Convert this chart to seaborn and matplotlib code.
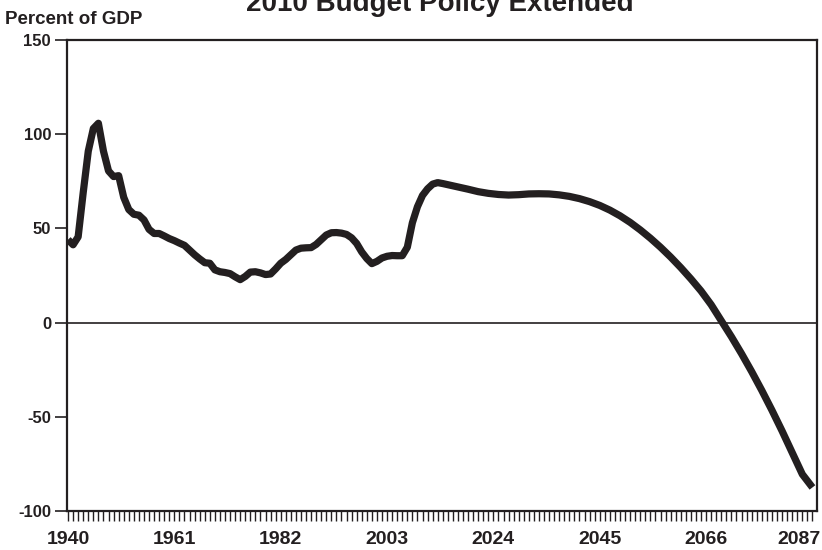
import matplotlib
matplotlib.use("Agg")
import matplotlib.pyplot as plt
import matplotlib.transforms as mtransforms
from matplotlib import font_manager
import seaborn as sns
import numpy as np
import pandas as pd

years = [1940, 1941, 1942, 1943, 1944, 1945, 1946, 1947, 1948, 1949,
         1950, 1951, 1952, 1953, 1954, 1955, 1956, 1957, 1958, 1959,
         1960, 1961, 1962, 1963, 1964, 1965, 1966, 1967, 1968, 1969,
         1970, 1971, 1972, 1973, 1974, 1975, 1976, 1977, 1978, 1979,
         1980, 1981, 1982, 1983, 1984, 1985, 1986, 1987, 1988, 1989,
         1990, 1991, 1992, 1993, 1994, 1995, 1996, 1997, 1998, 1999,
         2000, 2001, 2002, 2003, 2004, 2005, 2006, 2007, 2008, 2009,
         2010, 2011, 2012, 2013, 2014, 2015, 2017, 2019, 2021, 2023,
         2025, 2027, 2029, 2031, 2033, 2035, 2037, 2039, 2041, 2043,
         2045, 2047, 2049, 2051, 2053, 2055, 2057, 2059, 2061, 2063,
         2065, 2067, 2069, 2071, 2073, 2075, 2077, 2079, 2081, 2083,
         2085, 2087]
debt_pct_gdp = [44.0, 41.3, 45.5, 69.0, 91.0, 103.0, 105.8, 91.0, 80.5, 77.5,
                78.0, 66.5, 60.0, 57.5, 57.0, 54.5, 49.5, 47.3, 47.3, 46.0,
                44.6, 43.5, 42.2, 41.0, 38.5, 36.0, 33.8, 31.8, 31.5, 28.0,
                27.0, 26.6, 26.0, 24.3, 22.8, 24.5, 26.8, 27.0, 26.4, 25.5,
                25.8, 28.5, 31.5, 33.5, 36.0, 38.5, 39.5, 39.7, 39.8, 41.5,
                44.0, 46.5, 47.7, 47.8, 47.5, 46.8, 45.0, 42.0, 37.5, 34.0,
                31.3, 32.5, 34.3, 35.2, 35.6, 35.5, 35.5, 40.0, 53.0, 61.5,
                67.5, 71.0, 73.5, 74.3, 73.8, 73.2, 72.0, 70.8, 69.5, 68.6,
                68.0, 67.7, 67.9, 68.3, 68.4, 68.3, 67.8, 67.0, 65.8, 64.2,
                62.2, 59.7, 56.7, 53.2, 49.2, 44.8, 40.0, 34.8, 29.2, 23.2,
                16.8, 9.5, 1.0, -7.5, -16.5, -26.0, -36.0, -46.5, -57.5, -69.0,
                -80.5, -87.5]

tick_years = [1940, 1961, 1982, 2003, 2024, 2045, 2066, 2087]
y_ticks = [-100, -50, 0, 50, 100, 150]

title_text = "2010 Budget Policy Extended"
ylabel_text = "Percent of GDP"

names = {f.name for f in font_manager.fontManager.ttflist}
narrow = "Liberation Sans Narrow" if "Liberation Sans Narrow" in names else "Liberation Sans"

sns.set_theme(style="white")
plt.rcParams["font.family"] = [narrow, "DejaVu Sans"]

fig = plt.figure(figsize=(8.22, 5.5), dpi=100)
ax = fig.add_axes([67 / 822, 1 - 511 / 550, (817 - 67) / 822, (511 - 40) / 550])

df = pd.DataFrame({"year": years, "value": debt_pct_gdp})
ink = "#231f20"
sns.lineplot(data=df, x="year", y="value", ax=ax, color=ink, linewidth=5.2,
             solid_joinstyle="round", solid_capstyle="butt")
ax.axhline(0, color=ink, linewidth=1.2, zorder=1)

ax.set_xlim(1939.8, 2087.9)
ax.set_ylim(-100, 150)
ax.set_xticks(tick_years)
ax.set_xticklabels([str(y) for y in tick_years], fontsize=14, fontweight="bold", color=ink)
ax.set_xticks(np.arange(years[0], years[-1] + 1), minor=True)
ax.set_yticks(y_ticks)
ax.set_yticklabels([str(v) for v in y_ticks], fontsize=12, fontweight="bold", color=ink)
ax.tick_params(axis="x", which="both", direction="out", length=7.5, width=1.0,
               color=ink, bottom=True, pad=7)
ax.tick_params(axis="y", which="major", direction="out", length=8.5, width=1.2,
               color=ink, left=True, pad=3)
ax.set_xlabel("")
ax.set_ylabel("")
for s in ax.spines.values():
    s.set_color(ink)
    s.set_linewidth(1.6)
    s.set_visible(True)
ax.grid(False)

last = ax.get_xticklabels()[-1]
last.set_ha("right")
last.set_transform(last.get_transform() + mtransforms.ScaledTranslation(8 / 100, 0, fig.dpi_scale_trans))

fig.text(5 / 822, 1 - 24 / 550, ylabel_text, fontsize=13.5, fontweight="bold",
         color=ink, ha="left", va="baseline")
fig.text(440 / 822, 1 - 11 / 550, title_text, fontsize=20, fontweight="bold",
         color=ink, ha="center", va="baseline", family=["Liberation Sans", "DejaVu Sans"])

fig.savefig("out.png", dpi=100)
